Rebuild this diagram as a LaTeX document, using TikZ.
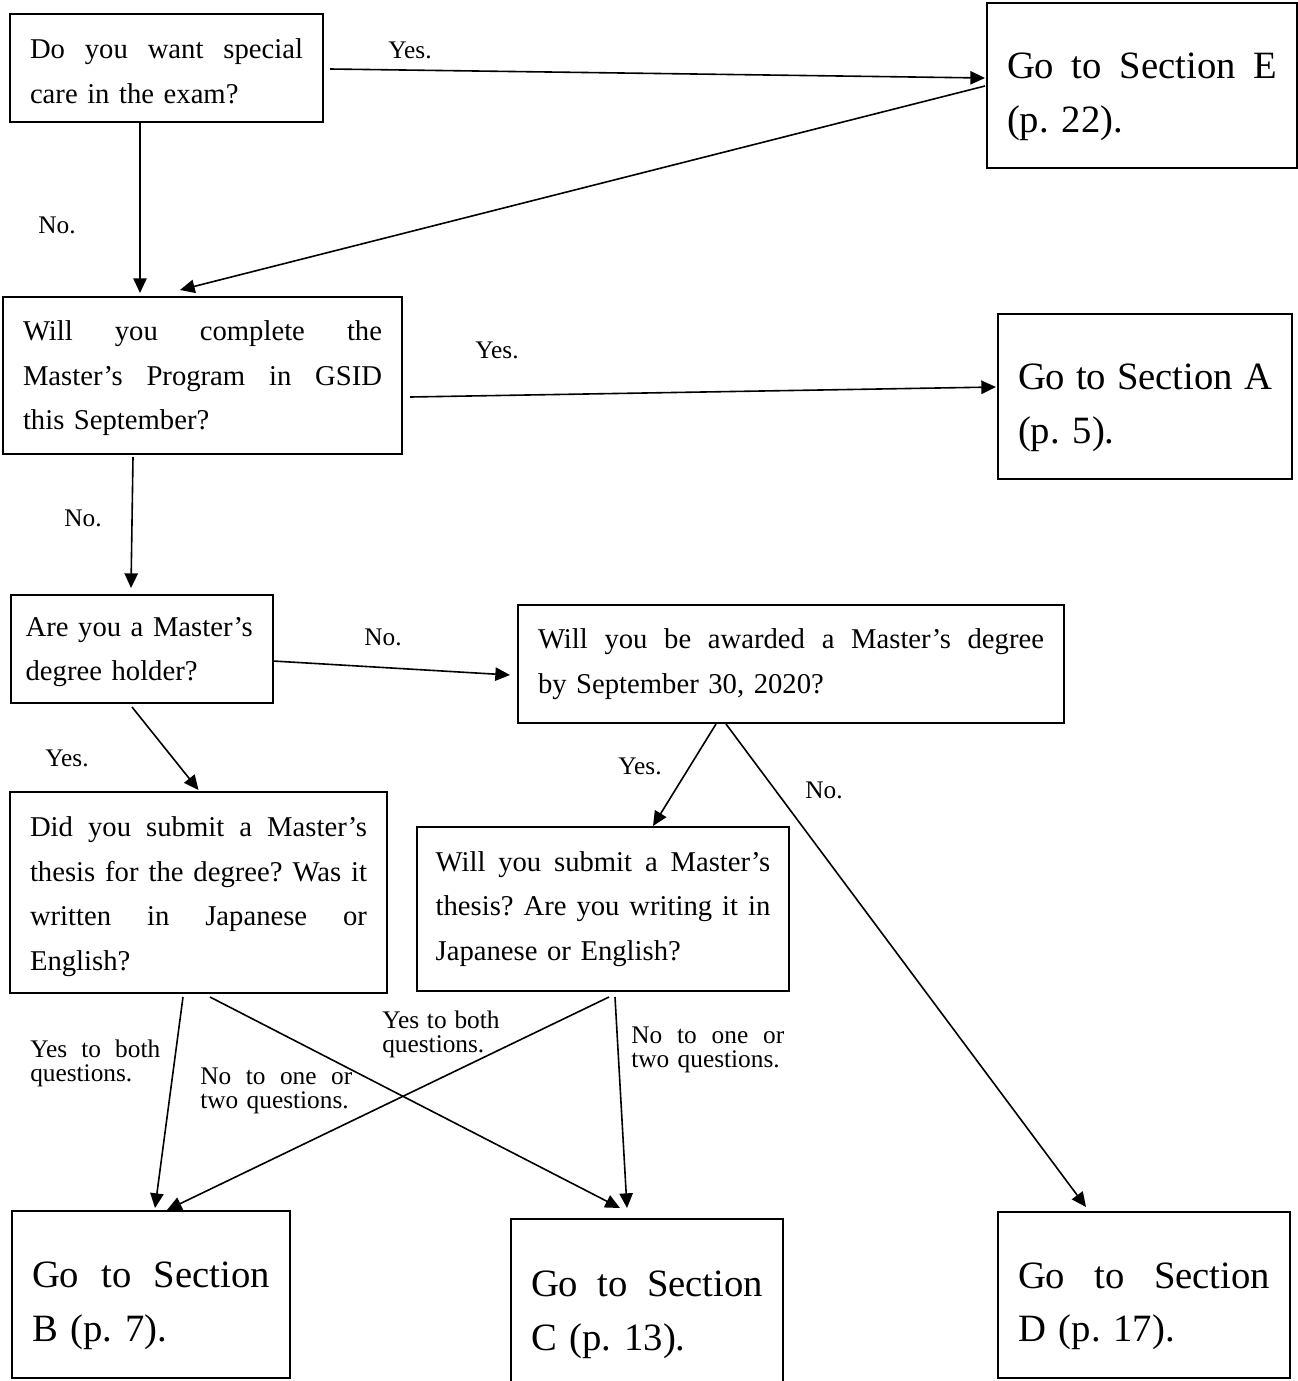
\documentclass[tikz,border=0pt]{standalone}
\usepackage{fontspec}
\setmainfont{Liberation Serif}
\usetikzlibrary{arrows.meta}
\newcommand\jl[2]{\makebox[#1][s]{\spaceskip=0.25em plus 1fil\relax#2}}
\begin{document}
\frenchspacing
\begin{tikzpicture}[x=0.75pt,y=-0.75pt,
  box/.style={draw,line width=1.5pt,outer sep=0pt,inner xsep=15pt,inner ysep=0pt,
    font=\fontsize{21.5}{33.5}\selectfont\frenchspacing},
  big/.style={draw,line width=1.5pt,outer sep=0pt,inner xsep=15pt,inner ysep=0pt,
    font=\fontsize{29}{40}\selectfont\frenchspacing},
  arr/.style={line width=1.2pt,-{Triangle[length=11pt,width=10pt]}},
  lbl/.style={inner sep=0pt,font=\fontsize{19}{18}\selectfont\frenchspacing}]
\clip (0,0) rectangle (1298,1381);
\fill[white] (0,0) rectangle (1298,1381);

% boxes
\node[box,text width=204.75pt,minimum height=81pt] (q1) at (166.5,68)
  {\rule{0pt}{20pt}\jl{204.75pt}{Do you want special}\\care in the exam?};
\node[big,text width=202.5pt,minimum height=123.75pt] (e) at (1142,85.5)
  {\rule{0pt}{36pt}\jl{202.5pt}{Go to Section E}\\(p. 22).};
\node[box,text width=269.25pt,minimum height=117.75pt] (q2) at (202.5,375.5)
  {\rule{0pt}{19pt}\jl{269.25pt}{Will you complete the}\\\jl{269.25pt}{Master’s Program in GSID}\\this September?};
\node[big,text width=190.5pt,minimum height=123.75pt] (a) at (1145,396.5)
  {\rule{0pt}{36pt}\jl{190.5pt}{Go to Section A}\\(p. 5).};
\node[box,text width=174.5pt,inner xsep=11pt,minimum height=81pt] (q3) at (142,649)
  {\rule{0pt}{19pt}\mbox{Are you a Master’s}\\\mbox{degree holder?}};
\node[box,text width=379.5pt,minimum height=88.5pt] (q4) at (791,664)
  {\jl{379.5pt}{Will you be awarded a Master’s degree}\\by September 30, 2020?};
\node[box,text width=252.75pt,minimum height=150.75pt] (q5) at (198.5,892.5)
  {\rule{0pt}{21pt}\jl{252.75pt}{Did you submit a Master’s}\\\jl{252.75pt}{thesis for the degree? Was it}\\\jl{252.75pt}{written in Japanese or}\\English?};
\node[box,text width=251pt,inner xsep=14pt,minimum height=123pt] (q6) at (603,909)
  {\jl{251pt}{Will you submit a Master’s}\\\jl{251pt}{thesis? Are you writing it in}\\Japanese or English?};
\node[big,text width=178.5pt,minimum height=125.25pt] (b) at (151,1294.5)
  {\rule{0pt}{36pt}\jl{178.5pt}{Go to Section}\\B (p. 7).};
\node[big,text width=174pt,minimum height=135.75pt] (c) at (647,1309.5)
  {\rule{0pt}{27pt}\jl{174pt}{Go to Section}\\C (p. 13).};
\node[big,text width=189pt,minimum height=124.5pt] (d) at (1144,1295)
  {\rule{0pt}{36pt}\jl{189pt}{Go to Section}\\D (p. 17).};

% connectors
\draw[arr] ([shift={(7,1)}]q1.east) -- ([shift={(-2,-7.5)}]e.west);
\draw[arr] ([shift={(-2,0.5)}]e.west) -- ([shift={(-22.5,-7)}]q2.north);
\draw[arr] ([shift={(-26.5,0)}]q1.south) -- ([shift={(-62.5,-4)}]q2.north);
\draw[arr] ([shift={(8,21.5)}]q2.east) -- ([shift={(-2,-9.5)}]a.west);
\draw[arr] ([shift={(-69.5,3)}]q2.south) -- ([shift={(-11,-7)}]q3.north);
\draw[arr] ([shift={(0,12)}]q3.east) -- ([shift={(-8,11)}]q4.west);
\draw[arr] ([shift={(-10,4)}]q3.south) -- ([shift={(0,-2)}]q5.north);
\draw[arr] ([shift={(-75,1)}]q4.south) -- ([shift={(50,-1)}]q6.north);
\draw[arr] ([shift={(-65,1)}]q4.south) -- ([shift={(-58,-5)}]d.north);
\draw[arr] ([shift={(-15.5,4)}]q5.south) -- ([shift={(4,-3)}]b.north);
\draw[arr] ([shift={(11.5,4)}]q5.south) -- ([shift={(-27,-11)}]c.north);
\draw[arr] ([shift={(6,6)}]q6.south) -- ([shift={(16,-1)}]b.north);
\draw[arr] ([shift={(12,6)}]q6.south) -- ([shift={(-20,-11)}]c.north);

% labels
\node[lbl] (l1) at (410,50) {Yes.};
\node[lbl] (l2) at (57,225) {No.};
\node[lbl] (l3) at (497,350) {Yes.};
\node[lbl] (l4) at (83,518) {No.};
\node[lbl] (l5) at (383,637) {No.};
\node[lbl] (l6) at (67,758) {Yes.};
\node[lbl] (l7) at (640,766) {Yes.};
\node[lbl] (l8) at (824,790) {No.};
\node[lbl,anchor=west,text width=97.5pt] (l9) at (30,1063)
  {\jl{97.5pt}{Yes to both}\\questions.};
\node[lbl,anchor=west,text width=114pt] (l10) at (200,1091)
  {\jl{114pt}{No to one or}\\two questions.};
\node[lbl,anchor=west,text width=90pt] (l11) at (382,1034)
  {\jl{88pt}{Yes to both}\\questions.};
\node[lbl,anchor=west,text width=114.75pt] (l12) at (631,1050)
  {\jl{114.75pt}{No to one or}\\two questions.};
\end{tikzpicture}
\end{document}
